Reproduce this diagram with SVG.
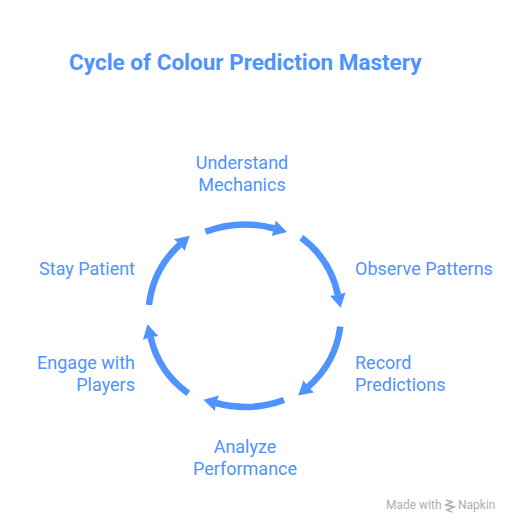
<svg xmlns="http://www.w3.org/2000/svg" width="519" height="532" viewBox="0 0 519 532">
<style>
text{font-family:Roboto,"Liberation Sans",sans-serif;fill:#5093fe}
.l{font-size:18px}
.m{text-anchor:middle}
.e{text-anchor:end}
.t{font-size:22.5px;font-weight:700}
.f{font-size:12px;fill:#adadad}
.c{fill:none;stroke:#5093fe;stroke-width:6.5;marker-end:url(#h)}
</style>
<defs>
<marker id="h" markerUnits="userSpaceOnUse" markerWidth="24" markerHeight="24" refX="1" refY="12" orient="auto">
<path d="M0 4L14 12L0 20L1 12Z" fill="#5093fe"/>
</marker>
</defs>
<rect width="519" height="532" fill="#fff"/>
<text class="t" x="69" y="70">Cycle of Colour Prediction Mastery</text>
<g id="connectors">
<path class="c" d="M205.5 231.7A113 113 0 0 1 274.5 228.5"/>
<path class="c" d="M301.3 237.7A96 96 0 0 1 338 295"/>
<path class="c" d="M340.3 326.7A96 96 0 0 1 308 387"/>
<path class="c" d="M284 400A113 113 0 0 1 216 403"/>
<path class="c" d="M188.3 393.3A96 96 0 0 1 150.5 337"/>
<path class="c" d="M149 305A96 96 0 0 1 180 244.5"/>
</g>
<g id="n1"><text class="l m" x="242" y="169">Understand</text><text class="l m" x="242" y="191">Mechanics</text></g>
<g id="n2"><text class="l" x="355" y="275">Observe Patterns</text></g>
<g id="n3"><text class="l" x="355" y="369">Record</text><text class="l" x="355" y="391">Predictions</text></g>
<g id="n4"><text class="l m" x="245" y="453">Analyze</text><text class="l m" x="245" y="475">Performance</text></g>
<g id="n5"><text class="l e" x="135" y="369">Engage with</text><text class="l e" x="135" y="391">Players</text></g>
<g id="n6"><text class="l e" x="135" y="275">Stay Patient</text></g>
<g id="footer">
<text class="f" x="386" y="509">Made with</text>
<path d="M446 500L452 502L446 505L454 507L447 510L452 512" fill="none" stroke="#adadad" stroke-width="1.6"/>
<text class="f" x="458" y="509">Napkin</text>
</g>
</svg>
